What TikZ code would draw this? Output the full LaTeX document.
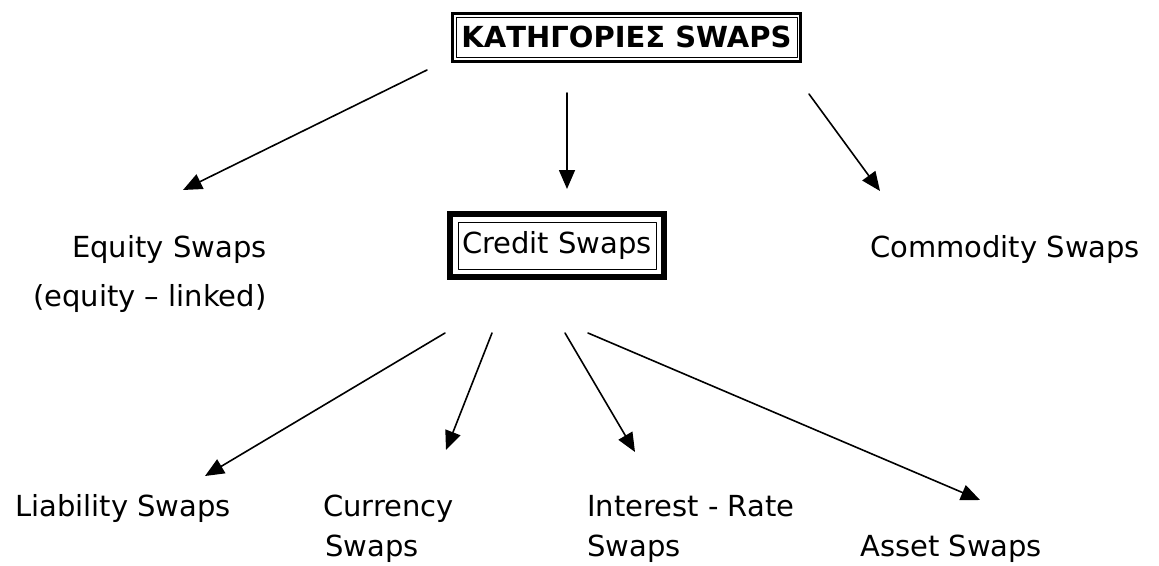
\documentclass[tikz,border=0pt]{standalone}
\usepackage{fontspec}
\setmainfont{DejaVu Sans}
\usetikzlibrary{arrows.meta}

\tikzset{
	lbl/.style={anchor=base west,inner sep=0pt,font=\fontsize{29}{29}\selectfont},
	arr/.style={line width=1.6pt,-{Triangle[length=19pt,width=16pt]}},
	boxed/.style={draw,line width=0.8pt,inner sep=0pt,font=\fontsize{29}{29}\selectfont},
}

\begin{document}
\begin{tikzpicture}[line cap=round,line join=round,x=1pt,y=-1pt]
		\useasboundingbox (0,0) rectangle (1159,565);
		% framed headings
		\node[boxed,minimum width=341pt,minimum height=40.5pt,font=\fontsize{29}{29}\selectfont\bfseries] (cat) at (626.5,37.2) {ΚΑΤΗΓΟΡΙΕΣ SWAPS};
		\draw[line width=3pt,line join=miter] ([shift={(-3.5pt,-3.5pt)}]cat.south west) rectangle ([shift={(3.5pt,3.5pt)}]cat.north east);
		\node[boxed,minimum width=198pt,minimum height=47pt] (credit) at (557,245.5) {Credit Swaps};
		\draw[line width=6pt,line join=miter] ([shift={(-8pt,-8pt)}]credit.south west) rectangle ([shift={(8pt,8pt)}]credit.north east);
		% plain labels
		\node[lbl] (equity) at (72,257) {Equity Swaps};
		\node[lbl] (linked) at (33,306) {(equity – linked)};
		\node[lbl] (commodity) at (870,257) {Commodity Swaps};
		\node[lbl] (liability) at (15,516) {Liability Swaps};
		\node[lbl] (currency) at (323,516) {Currency};
		\node[lbl] (currencyb) at (325,556) {Swaps};
		\node[lbl] (interest) at (587,516) {Interest - Rate};
		\node[lbl] (interestb) at (587,556) {Swaps};
		\node[lbl] (asset) at (860,556) {Asset Swaps};
		% arrow ends
		\coordinate (c1) at (427,70);
		\coordinate (c2) at (567,93);
		\coordinate (c3) at (809,94);
		\coordinate (e1) at (183,190);
		\coordinate (e2) at (567,189);
		\coordinate (e3) at (880,191);
		\coordinate (s1) at (445,333);
		\coordinate (s2) at (492,333);
		\coordinate (s3) at (565,333);
		\coordinate (s4) at (588,333);
		\coordinate (t1) at (205,476);
		\coordinate (t2) at (446,450);
		\coordinate (t3) at (635,452);
		\coordinate (t4) at (980,500);
		\draw[arr] (c1) -- (e1);
		\draw[arr] (c2) -- (e2);
		\draw[arr] (c3) -- (e3);
		\draw[arr] (s1) -- (t1);
		\draw[arr] (s2) -- (t2);
		\draw[arr] (s3) -- (t3);
		\draw[arr] (s4) -- (t4);
	\end{tikzpicture}
\end{document}
